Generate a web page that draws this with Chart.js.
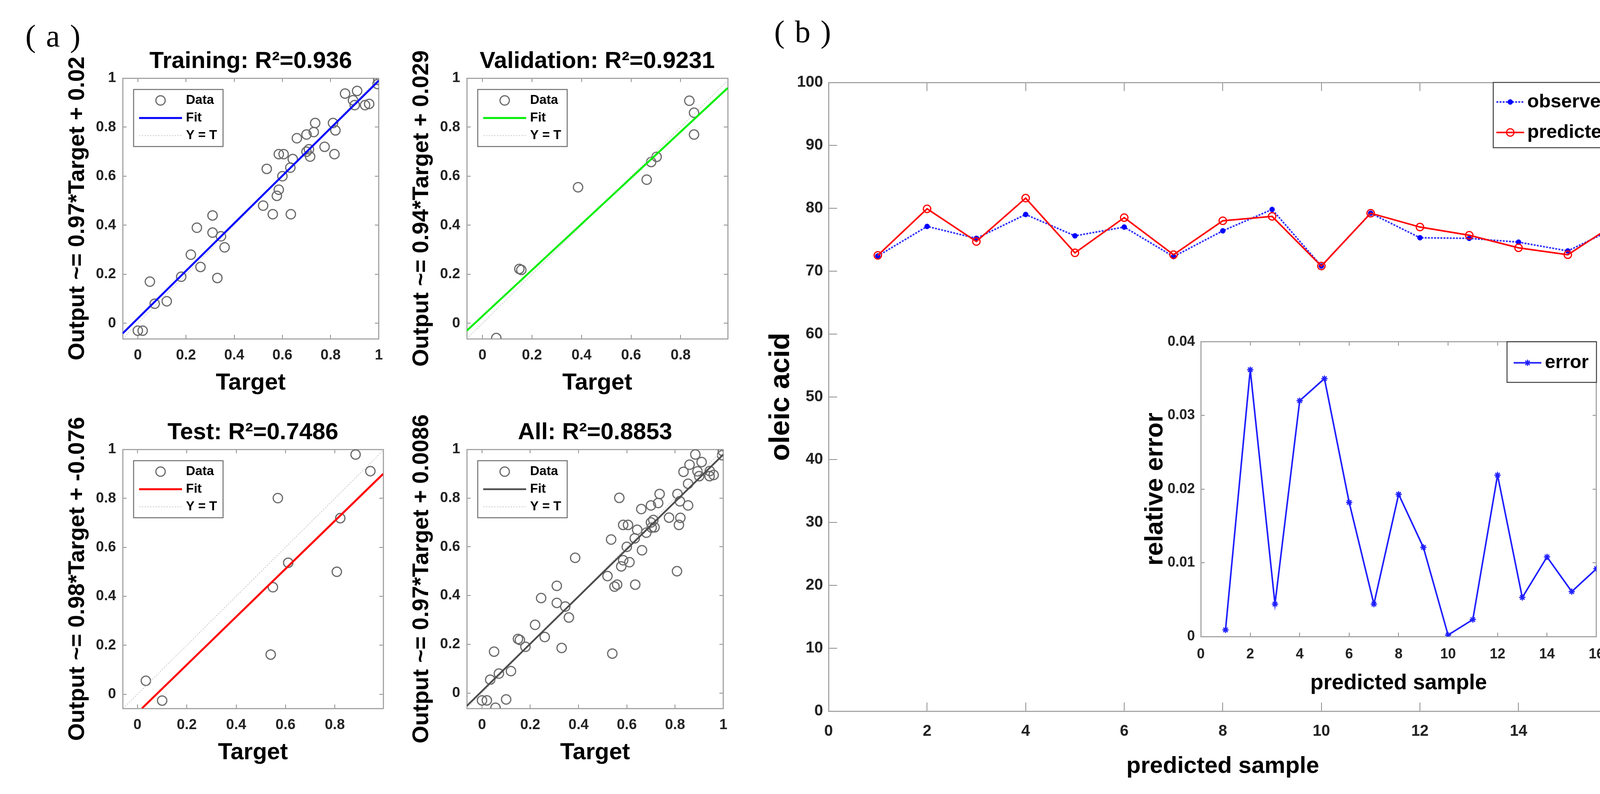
<!DOCTYPE html>
<html>
<head>
<meta charset="utf-8">
<script src="https://cdn.jsdelivr.net/npm/chart.js@4.4.1/dist/chart.umd.min.js"></script>
<style>
html, body { margin: 0; padding: 0; background: #fff; }
body { width: 4245px; height: 2032px; position: relative; overflow: hidden; }
canvas { position: absolute; }
.tag { position: absolute; font-family: "Liberation Serif", "Times New Roman", serif; font-size: 80px; line-height: 80px; letter-spacing: 26px; color: #000; }
</style>
</head>
<body>
<div class="tag" style="left:65px;top:52px">(a)</div>
<div class="tag" style="left:1982px;top:41px">(b)</div>
<canvas id="train"></canvas>
<canvas id="valid"></canvas>
<canvas id="test"></canvas>
<canvas id="all"></canvas>
<canvas id="main"></canvas>
<canvas id="inset"></canvas>
<script>
// (a) regression data
const trainTarget = [0.0, 0.02, 0.05, 0.07, 0.12, 0.18, 0.22, 0.245, 0.26, 0.31, 0.31, 0.33, 0.345, 0.36, 0.52, 0.535, 0.56, 0.577, 0.585, 0.585, 0.605, 0.6, 0.633, 0.635, 0.643, 0.66, 0.70, 0.70, 0.71, 0.715, 0.73, 0.736, 0.775, 0.81, 0.82, 0.816, 0.86, 0.91, 0.893, 0.9, 0.943, 0.96, 0.998, 0.995];
const trainOutput = [-0.03, -0.03, 0.17, 0.08, 0.09, 0.19, 0.28, 0.39, 0.23, 0.44, 0.37, 0.185, 0.355, 0.31, 0.48, 0.63, 0.445, 0.52, 0.545, 0.69, 0.69, 0.6, 0.635, 0.445, 0.67, 0.755, 0.77, 0.70, 0.71, 0.68, 0.78, 0.817, 0.72, 0.817, 0.787, 0.69, 0.937, 0.948, 0.91, 0.89, 0.89, 0.895, 0.993, 0.976];
const valTarget = [0.056, 0.149, 0.157, 0.386, 0.663, 0.681, 0.703, 0.835, 0.854, 0.854];
const valOutput = [-0.06, 0.222, 0.218, 0.555, 0.586, 0.658, 0.679, 0.908, 0.859, 0.77];
const testTarget = [0.034, 0.1, 0.54, 0.549, 0.569, 0.611, 0.808, 0.822, 0.884, 0.944];
const testOutput = [0.055, -0.026, 0.162, 0.437, 0.801, 0.537, 0.5, 0.719, 0.979, 0.911];

// fitted lines, ends read at the axis edges
const trainFitX = [-0.063, 1], trainFitY = [-0.041, 0.99];
const valFitX = [-0.063, 0.99], valFitY = [-0.030, 0.960];
const testFitX = [0.018, 0.996], testFitY = [-0.058, 0.900];
const allFitX = [-0.063, 1], allFitY = [-0.053, 0.979];

// (b) oleic acid per predicted sample
const samples = [1, 2, 3, 4, 5, 6, 7, 8, 9, 10, 11, 12, 13, 14, 15, 16];
const observed = [72.4, 77.1, 75.2, 79.0, 75.6, 77.0, 72.3, 76.4, 79.8, 70.8, 79.2, 75.3, 75.2, 74.6, 73.2, 77.0];
const predicted = [72.5, 79.9, 74.7, 81.6, 72.9, 78.5, 72.6, 78.0, 78.7, 70.8, 79.2, 77.0, 75.7, 73.7, 72.6, 77.7];
const relError = [0.0009, 0.0362, 0.0044, 0.032, 0.035, 0.0182, 0.0044, 0.0193, 0.0121, 0.0002, 0.0023, 0.0219, 0.0053, 0.0108, 0.0061, 0.0092];

const SANS = '"Liberation Sans", Arial, sans-serif';
const FRAME = '#a6a6a6';

const pts = (xs, ys) => xs.map((x, i) => ({x: x, y: ys[i]}));

// legend drawn inside a box, like the matlab ones
const boxLegend = {
  id: 'boxLegend',
  afterDraw(chart, args, o) {
    if (!o || !o.items) return;
    const ctx = chart.ctx, a = chart.chartArea;
    const bx = o.anchor === 'right' ? a.right - o.w : a.left + o.dx;
    const by = a.top + o.dy;
    ctx.save();
    ctx.fillStyle = '#fff';
    ctx.fillRect(bx, by, o.w, o.h);
    ctx.strokeStyle = o.frame;
    ctx.lineWidth = 2.5;
    ctx.strokeRect(bx, by, o.w, o.h);
    o.items.forEach((it, i) => {
      const ds = chart.data.datasets[it.ds];
      const cy = by + o.ry + i * (o.rdy || 0);
      const x0 = bx + o.lx0, x1 = bx + o.lx1;
      if (it.line) {
        ctx.save();
        ctx.strokeStyle = ds.borderColor;
        ctx.lineWidth = ds.borderWidth;
        ctx.setLineDash(ds.borderDash || []);
        ctx.beginPath();
        ctx.moveTo(x0, cy);
        ctx.lineTo(x1, cy);
        ctx.stroke();
        ctx.restore();
      }
      if (it.point) {
        ctx.save();
        ctx.fillStyle = ds.pointBackgroundColor;
        ctx.strokeStyle = ds.pointBorderColor;
        ctx.lineWidth = ds.pointBorderWidth;
        Chart.helpers.drawPoint(ctx, {pointStyle: ds.pointStyle, radius: ds.pointRadius, borderWidth: ds.pointBorderWidth, rotation: 0}, (x0 + x1) / 2, cy);
        ctx.restore();
      }
      ctx.fillStyle = '#000';
      ctx.font = o.font;
      ctx.textBaseline = 'middle';
      ctx.textAlign = 'left';
      ctx.fillText(it.text, bx + o.tx, cy);
    });
    ctx.restore();
  }
};
Chart.register(boxLegend);

function place(id, f, m) {
  const c = document.getElementById(id);
  const w = f.r - f.l + m.l + m.r, h = f.b - f.t + m.t + m.b;
  c.width = w;
  c.height = h;
  c.style.left = (f.l - m.l) + 'px';
  c.style.top = (f.t - m.t) + 'px';
  c.style.width = w + 'px';
  c.style.height = h + 'px';
  return c;
}

// box axes with inward ticks; top/right ones only mirror the ticks
function axis(pos, min, max, step, s) {
  const horiz = pos === 'top' || pos === 'bottom';
  const main = pos === 'bottom' || pos === 'left';
  return {
    type: 'linear', position: pos, min: min, max: max,
    ticks: {
      display: main, stepSize: step, includeBounds: false, autoSkip: false, maxRotation: 0,
      padding: horiz ? s.xPad : s.yPad,
      font: {family: SANS, size: s.tickSize, weight: 'bold'}, color: '#222',
      callback: v => String(Math.round(v * 1000) / 1000)
    },
    grid: {drawOnChartArea: false, drawTicks: true, tickLength: -s.tick, color: '#8c8c8c', lineWidth: 2},
    border: {display: true, color: FRAME, width: 3},
    title: {
      display: main, text: horiz ? s.xTitle : s.yTitle, color: '#000', padding: 0,
      font: {family: SANS, size: horiz ? s.xTitleSize : s.yTitleSize, weight: 'bold'}
    },
    afterFit: sc => {
      if (horiz) sc.height = main ? s.xh : 0;
      else sc.width = main ? s.yw : 0;
    }
  };
}

function regression(id, f, d) {
  const s = {xPad: 31, yPad: 27, tick: 10, tickSize: 37,
    xTitle: 'Target', yTitle: d.yTitle, xTitleSize: 60, yTitleSize: 58, xh: 149, yw: 150};
  const c = place(id, f, {l: 150, r: 30, t: 119, b: 149});
  new Chart(c, {
    type: 'scatter',
    data: {datasets: [
      {label: 'Fit', data: pts(d.fitX, d.fitY), showLine: true, borderColor: d.fitColor, borderWidth: d.fitWidth, pointRadius: 0},
      {label: 'Y = T', data: pts(d.diag, d.diag), showLine: true, borderColor: '#c4c4c4', borderWidth: 1.5, borderDash: [4, 3], pointRadius: 0},
      {label: 'Data', data: pts(d.target, d.output), pointStyle: 'circle', pointRadius: 12, pointBorderWidth: 3,
        pointBorderColor: '#6b6b6b', pointBackgroundColor: 'rgba(0,0,0,0)'}
    ]},
    options: {
      responsive: false, animation: false, devicePixelRatio: 1, events: [],
      layout: {padding: {left: 0, right: 30, top: 40, bottom: 0}},
      plugins: {
        legend: {display: false},
        tooltip: {enabled: false},
        title: {display: true, text: d.title, fullSize: false, color: '#000',
          font: {family: SANS, size: 60, weight: 'bold'}, padding: {top: 0, bottom: 7}},
        boxLegend: {
          anchor: 'left', dx: 28, dy: 29, w: 229, h: 146, lx0: 14, lx1: 124, tx: 134, ry: 28, rdy: 45,
          frame: '#6e6e6e', font: 'bold 33px ' + SANS,
          items: [{ds: 2, text: 'Data', point: true}, {ds: 0, text: 'Fit', line: true}, {ds: 1, text: 'Y = T', line: true}]
        }
      },
      scales: {
        x: axis('bottom', d.xr[0], d.xr[1], 0.2, s),
        y: axis('left', d.yr[0], d.yr[1], 0.2, s),
        x2: axis('top', d.xr[0], d.xr[1], 0.2, s),
        y2: axis('right', d.yr[0], d.yr[1], 0.2, s)
      }
    }
  });
}

regression('train', {l: 314, t: 200, r: 981, b: 867}, {
  title: 'Training: R\u00b2=0.936', yTitle: 'Output ~= 0.97*Target + 0.02',
  target: trainTarget, output: trainOutput, fitX: trainFitX, fitY: trainFitY,
  fitColor: '#0000ff', fitWidth: 5, diag: [-0.063, 1], xr: [-0.063, 1], yr: [-0.063, 1]
});
regression('valid', {l: 1195, t: 200, r: 1863, b: 867}, {
  title: 'Validation: R\u00b2=0.9231', yTitle: 'Output ~= 0.94*Target + 0.029',
  target: valTarget, output: valOutput, fitX: valFitX, fitY: valFitY,
  fitColor: '#00ee00', fitWidth: 5, diag: [-0.063, 0.99], xr: [-0.063, 0.99], yr: [-0.063, 1]
});
regression('test', {l: 314, t: 1150, r: 981, b: 1813}, {
  title: 'Test: R\u00b2=0.7486', yTitle: 'Output ~= 0.98*Target + -0.076',
  target: testTarget, output: testOutput, fitX: testFitX, fitY: testFitY,
  fitColor: '#ff0000', fitWidth: 5, diag: [-0.058, 0.996], xr: [-0.06, 0.996], yr: [-0.058, 1]
});
regression('all', {l: 1195, t: 1150, r: 1863, b: 1813}, {
  title: 'All: R\u00b2=0.8853', yTitle: 'Output ~= 0.97*Target + 0.0086',
  target: trainTarget.concat(valTarget, testTarget), output: trainOutput.concat(valOutput, testOutput),
  fitX: allFitX, fitY: allFitY,
  fitColor: '#4d4d4d', fitWidth: 4.5, diag: [-0.063, 1], xr: [-0.063, 1], yr: [-0.063, 1]
});

// (b) main plot
const sMain = {xPad: 50, yPad: 36, tick: 22, tickSize: 40,
  xTitle: 'predicted sample', yTitle: 'oleic acid', xTitleSize: 60, yTitleSize: 72, xh: 177, yw: 164};
const cm = place('main', {l: 2121, t: 191, r: 4172, b: 1820}, {l: 164, r: 40, t: 40, b: 177});
new Chart(cm, {
  type: 'line',
  data: {datasets: [
    {label: 'predicted', data: pts(samples, predicted), borderColor: '#ff0000', borderWidth: 4,
      pointStyle: 'circle', pointRadius: 9.5, pointBorderWidth: 3, pointBorderColor: '#ff0000', pointBackgroundColor: 'rgba(0,0,0,0)'},
    {label: 'observed', data: pts(samples, observed), borderColor: '#3030ff', borderWidth: 4, borderDash: [5, 3],
      pointStyle: 'circle', pointRadius: 6.5, pointBorderWidth: 1, pointBorderColor: '#0000ff', pointBackgroundColor: '#0000ff'}
  ]},
  options: {
    responsive: false, animation: false, devicePixelRatio: 1, events: [],
    layout: {padding: {left: 0, right: 40, top: 40, bottom: 0}},
    plugins: {
      legend: {display: false},
      tooltip: {enabled: false},
      boxLegend: {
        anchor: 'right', dy: 0, w: 317, h: 167, lx0: 8, lx1: 79, tx: 87, ry: 50, rdy: 78,
        frame: '#404040', font: 'bold 49px ' + SANS,
        items: [{ds: 1, text: 'observed', line: true, point: true}, {ds: 0, text: 'predicted', line: true, point: true}]
      }
    },
    scales: {
      x: axis('bottom', 0, 16, 2, sMain),
      y: axis('left', 0, 100, 10, sMain),
      x2: axis('top', 0, 16, 2, sMain),
      y2: axis('right', 0, 100, 10, sMain)
    }
  }
});

// (b) inset: relative error
const sInset = {xPad: 34, yPad: 25, tick: 10, tickSize: 36,
  xTitle: 'predicted sample', yTitle: 'relative error', xTitleSize: 55, yTitleSize: 64, xh: 153, yw: 154};
const ci = place('inset', {l: 3074, t: 858, r: 4111, b: 1629}, {l: 154, r: 30, t: 30, b: 153});
new Chart(ci, {
  type: 'line',
  data: {datasets: [
    {label: 'error', data: pts(samples, relError), borderColor: '#1f1fff', borderWidth: 4,
      pointStyle: 'star', pointRadius: 8, pointBorderWidth: 3, pointBorderColor: '#1f1fff', pointBackgroundColor: '#1f1fff'}
  ]},
  options: {
    responsive: false, animation: false, devicePixelRatio: 1, events: [],
    layout: {padding: {left: 0, right: 30, top: 30, bottom: 0}},
    plugins: {
      legend: {display: false},
      tooltip: {enabled: false},
      boxLegend: {
        anchor: 'right', dy: 0, w: 229, h: 104, lx0: 17, lx1: 88, tx: 97, ry: 54,
        frame: '#404040', font: 'bold 48px ' + SANS,
        items: [{ds: 0, text: 'error', line: true, point: true}]
      }
    },
    scales: {
      x: axis('bottom', 0, 16, 2, sInset),
      y: axis('left', 0, 0.04, 0.01, sInset),
      x2: axis('top', 0, 16, 2, sInset),
      y2: axis('right', 0, 0.04, 0.01, sInset)
    }
  }
});
</script>
</body>
</html>
